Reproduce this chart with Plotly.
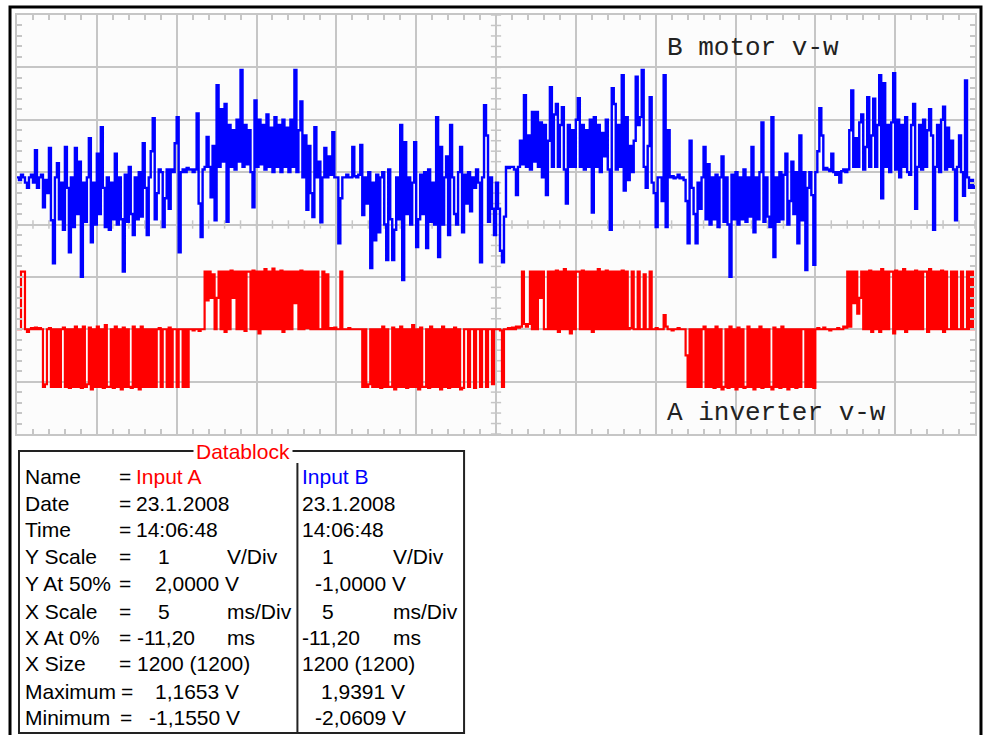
import plotly.graph_objects as go

# ---------------- data ----------------
X_START_MS = -11.2      # "X At 0%"
SAMPLE_MS = 0.125       # resampled step used for the reading
X_SPAN_MS = 60.0        # 12 div * 5 ms/Div

# Input A (inverter v-w), volts
input_a = [
    0.0, 0.0, 1.1, 1.1, 0.0, -0.05, 0.0, 0.02, 0.0, 0.03,
    0.0, 0.02, 0.0, -1.1, -1.05, 0.0, 0.02, -1.1, 0.0, -1.1,
    0.0, -1.1, 0.0, 0.03, -1.1, 0.0, -1.12, 0.0, -1.1, 0.05,
    -1.1, 0.0, -1.12, 0.05, -1.1, -1.05, 0.03, -1.15, 0.0, -1.1,
    0.05, -1.1, 0.0, -1.12, 0.08, -1.1, -1.1, 0.0, -1.12, 0.05,
    -1.1, 0.0, -1.15, 0.03, -1.1, 0.0, -1.1, -1.12, 0.05, -1.1,
    0.0, -1.15, 0.05, -1.1, 0.0, -1.1, 0.0, -1.1, 0.0, -1.1,
    0.0, 0.02, -1.1, 0.0, 0.0, -1.1, 0.03, -1.1, 0.0, 0.0,
    -1.1, 0.0, 0.0, -1.1, 0.0, -1.1, 0.0, 0.0, -0.02, 0.0,
    0.0, -0.03, 0.0, 0.0, 1.1, 0.55, 1.1, 0.6, 1.05, 0.0,
    0.6, 1.1, 0.0, 1.1, -0.05, 1.1, 0.0, 1.12, 0.6, 1.1,
    0.0, 1.1, 0.0, 1.1, -0.03, 1.1, 1.1, 0.0, 1.12, 0.0,
    1.1, -0.08, 1.1, 0.0, 1.15, 0.0, 1.1, 0.0, 1.16, 0.0,
    1.1, 0.0, 1.12, -0.05, 1.1, 0.0, 1.1, 0.0, 1.1, 0.5,
    1.1, 0.0, 1.12, 0.0, 1.1, 0.02, 1.1, 0.0, 1.1, 0.0,
    1.1, 0.0, 0.0, 1.1, 0.0, 1.05, 0.0, 0.02, 0.0, 0.03,
    0.0, 0.0, 1.1, 0.0, 0.0, 0.0, 0.02, 0.0, 0.0, 0.0,
    0.0, 0.0, 0.0, -1.1, 0.0, -1.1, -1.05, 0.0, -1.1, 0.0,
    -1.1, 0.0, -1.12, 0.05, -1.1, 0.0, -1.1, -1.1, 0.03, -1.15,
    0.0, -1.1, 0.05, -1.1, 0.0, -1.12, 0.0, -1.1, 0.08, -1.1,
    0.0, -1.15, 0.03, -1.1, -1.1, 0.0, -1.12, 0.05, -1.1, 0.0,
    -1.1, 0.0, -1.15, 0.05, -1.1, 0.0, -1.12, 0.0, -1.1, 0.03,
    -1.1, 0.0, -1.15, -1.12, 0.0, 0.0, -1.1, 0.0, 0.0, -1.12,
    0.0, 0.0, -1.1, 0.0, 0.0, -1.1, 0.0, 0.0, -1.05, 0.0,
    0.0, 0.0, -0.02, -1.1, 0.0, 0.0, 0.02, 0.0, 0.03, 0.0,
    0.05, 0.03, 0.05, 1.1, 0.1, 0.05, 0.1, 1.1, 0.0, 1.1,
    0.0, 1.1, 0.6, 1.1, 0.0, 0.0, 1.1, 0.0, 1.1, 0.0,
    1.12, -0.05, 1.1, 0.0, 1.15, 0.0, 1.1, -0.08, 1.1, 0.0,
    1.1, 1.1, 0.0, 1.12, 0.0, 1.1, 0.0, 1.1, -0.05, 1.1,
    0.0, 1.15, 0.0, 1.1, 0.0, 1.12, 0.0, 1.1, 0.0, 1.1,
    0.0, 1.1, 0.0, 1.12, 0.0, 1.1, 0.0, 0.02, 1.1, 0.0,
    0.0, 1.1, 0.0, 0.0, 1.05, 0.0, 0.0, 1.1, 0.0, 0.0,
    0.02, 0.0, 0.0, 0.0, 0.27, 0.05, 0.0, 0.0, -0.02, 0.0,
    0.0, 0.02, 0.0, 0.0, 0.0, -0.5, -1.1, 0.0, -1.1, 0.0,
    -1.1, 0.0, -1.1, 0.0, 0.05, -1.1, 0.0, -1.1, 0.0, -1.12,
    0.05, -1.1, 0.0, -1.15, -1.1, 0.0, -1.12, 0.05, -1.1, 0.0,
    -1.15, 0.03, -1.1, 0.0, -1.12, -1.1, 0.05, -1.1, 0.0, -1.15,
    0.0, -1.1, 0.05, -1.12, 0.0, -1.1, 0.0, -1.1, -1.15, 0.03,
    -1.1, 0.0, -1.12, 0.05, -1.1, 0.0, -1.15, 0.0, -1.1, 0.0,
    -1.12, 0.0, -1.1, 0.0, 0.0, -1.1, 0.0, -1.1, 0.0, -1.12,
    0.0, 0.02, 0.0, 0.0, 0.03, 0.0, 0.0, -0.02, 0.0, 0.0,
    0.0, 0.02, 0.0, 0.0, 0.05, 0.03, 1.1, 0.05, 1.1, 0.5,
    1.1, 0.3, 0.6, 1.1, 0.0, 1.1, 0.0, 1.12, -0.05, 1.1,
    0.0, 1.1, -0.05, 1.15, 0.0, 1.1, 0.0, 1.1, 1.1, -0.08,
    1.12, 0.0, 1.1, 0.0, 1.15, -0.05, 1.1, 0.0, 1.1, 0.0,
    1.12, 0.0, 1.1, 0.0, 1.1, 1.1, -0.05, 1.15, 0.0, 1.1,
    0.0, 1.1, 0.0, 1.12, -0.05, 1.1, 0.0, 0.0, 1.1, 0.0,
    1.1, 0.0, 0.0, 1.1, 0.0, 0.0, 1.1, 0.0, 1.1, 0.0,
    0.0,
]

# Input B (motor v-w), volts
input_b = [
    -0.1, -0.15, -0.05, -0.1, -0.2, -0.3, -0.1, -0.05, -0.2, 0.42,
    -0.3, -0.1, -0.05, -0.67, -0.15, -0.4, 0.46, -0.92, -1.74, -0.1,
    0.17, -0.9, -0.2, -1.1, 0.48, -0.3, -1.53, -0.1, -1.05, 0.46,
    -0.8, 0.2, -2.0, -0.2, -0.95, -0.1, 0.65, -1.34, -0.2, -1.0,
    0.35, -0.8, 0.86, -0.3, -1.05, -0.1, -1.1, -0.2, -0.9, 0.35,
    -1.0, -0.1, -0.9, -1.9, -0.05, -0.95, 0.1, -0.8, -1.2, -0.1,
    -0.9, 0.0, -0.85, 0.55, -0.3, -1.2, -0.1, 0.4, 1.03, -0.9,
    -0.4, 0.05, 0.0, -1.05, -0.5, 0.05, -0.7, 0.05, 0.0, 0.55,
    1.05, -1.53, 0.0, 0.05, 0.0, 0.08, 0.05, 0.05, 0.0, 0.05,
    1.12, -0.6, -1.24, 0.05, 0.1, 0.67, 0.1, -0.48, 0.5, -0.92,
    1.66, 0.1, 1.2, 0.2, 1.3, -0.95, 0.9, 0.1, 0.8, 0.05,
    1.0, 0.2, 1.95, 0.1, 0.9, 0.15, 0.8, 0.0, -0.67, 1.37,
    0.1, 1.0, 0.15, 0.9, 0.05, 1.1, 0.1, 0.85, 0.0, 1.05,
    0.1, 0.9, 0.0, 1.0, 0.1, 0.85, 0.0, 1.0, 0.1, 1.95,
    0.0, 0.8, 1.35, -0.1, 0.7, -0.72, 0.5, -0.4, -0.86, 0.86,
    -0.1, 0.2, -0.96, -0.1, 0.46, -0.1, 0.3, -0.05, 0.76, -0.1,
    -0.1, -1.36, -0.5, -0.1, -0.1, -0.05, -0.1, -0.1, 0.48, -0.08,
    -0.1, -0.05, 0.52, -0.82, -0.1, -0.6, 0.0, -1.83, -0.2, -1.3,
    -0.05, -1.15, -0.1, 0.0, -1.0, -1.68, 0.05, -0.9, -1.68, -1.1,
    -0.1, -0.9, 0.9, -2.06, 0.57, -0.8, -0.1, -1.0, -0.2, 0.57,
    -1.43, -0.9, -0.05, -0.8, 0.0, -1.45, 0.05, -0.95, -0.2, -1.0,
    1.05, -1.62, 0.48, -1.0, -0.1, 0.3, -1.2, 0.9, -0.1, -0.8,
    -1.0, 0.0, 0.48, -1.15, -0.05, -0.6, 0.0, -0.75, -0.1, -0.3,
    0.05, -0.2, -1.72, -0.1, 1.28, 0.7, -0.95, -0.1, -0.7, -1.2,
    -0.2, -0.7, -1.5, -1.72, -0.85, 0.1, 0.08, 0.1, 0.1, 0.05,
    -0.44, 0.1, 0.6, 0.15, 1.47, 0.1, 0.7, 0.05, 1.15, 0.2,
    1.15, 0.1, 0.95, -0.1, 0.9, -0.44, 0.6, 1.62, 0.1, 1.1,
    1.3, 0.1, 0.9, 1.24, 0.05, -0.6, 0.9, 0.1, 0.8, 0.1,
    1.0, 1.41, 0.1, 0.9, 0.05, 0.8, 0.1, 1.0, -0.77, 1.05,
    0.1, 0.9, 0.0, 0.75, 0.3, 1.0, 0.05, -1.1, 1.6, 1.3,
    0.05, 0.9, 0.1, 1.85, -0.35, 1.05, -0.15, 0.5, 0.0, 0.6,
    1.82, 0.9, 1.05, 1.95, 0.1, -0.3, 0.5, 1.43, -0.2, -0.4,
    -1.05, -0.1, -0.1, -0.55, 1.85, -1.05, 0.8, -0.1, -0.08, -0.12,
    -0.1, -0.05, -0.12, -0.1, -0.15, -0.55, -1.36, 0.6, -0.3, -0.8,
    -1.36, -0.2, -0.7, -0.1, 0.48, -0.9, 0.15, -1.0, -0.1, -0.9,
    -0.05, -1.05, -0.1, 0.3, -0.95, -0.1, -1.0, -2.0, -0.05, -0.9,
    0.0, -1.0, -0.1, -0.9, 0.05, -0.95, -0.1, -0.85, 0.48, -1.15,
    -0.1, -0.9, 0.0, 0.95, -0.95, -0.1, -0.85, -1.05, 1.05, -1.62,
    -0.1, -0.95, 0.0, -0.9, -0.05, 0.35, -1.0, -0.55, 0.2, -0.8,
    0.0, -1.36, 0.7, -0.92, 0.0, -1.87, -0.3, 0.0, -0.44, -1.77,
    0.0, 0.4, 1.22, 0.7, 0.05, 0.08, 0.05, 0.02, 0.35, 0.0,
    -0.05, 0.0, -0.2, 0.02, 0.05, 0.0, 0.05, 0.8, 1.56, 0.1,
    0.65, 0.1, 0.95, 1.1, 0.05, 0.48, 1.43, 0.1, 0.7, 1.4,
    0.1, 0.9, 1.85, -0.5, 1.7, 0.1, 0.9, 0.0, 0.95, 1.89,
    0.05, 1.0, -0.1, 0.9, 0.1, 1.05, 0.0, -0.05, 0.9, 1.3,
    -0.7, 0.1, 0.9, 0.05, 1.0, 0.1, 0.8, 1.2, 0.7, -1.1,
    0.1, 0.9, 0.0, 1.0, 1.25, 0.05, 0.85, 0.1, 0.6, 0.05,
    -0.92, 0.1, 0.7, 0.0, -0.45, 1.75, -0.1, -0.3, -0.15, -0.3,
    -0.25,
]

time_a = [round(X_START_MS + SAMPLE_MS * i, 4) for i in range(len(input_a))]
time_b = [round(X_START_MS + SAMPLE_MS * i, 4) for i in range(len(input_b))]

# Y At 50% (screen centre) and scale for each channel
A_CENTER_V, B_CENTER_V, V_PER_DIV, Y_DIVS = 2.0, -1.0, 1.0, 8

# Datablock
db_labels = ["Name", "Date", "Time", "Y Scale", "Y At 50%", "X Scale",
             "X At 0%", "X Size", "Maximum", "Minimum"]
db_a = ["Input A", "23.1.2008", "14:06:48", "1", "2,0000 V", "5",
        "-11,20", "1200 (1200)", "1,1653 V", "-1,1550 V"]
db_b = ["Input B", "23.1.2008", "14:06:48", "1", "-1,0000 V", "5",
        "-11,20", "1200 (1200)", "1,9391 V", "-2,0609 V"]
db_unit = ["", "", "", "V/Div", "", "ms/Div", "ms", "", "", ""]

# ---------------- layout geometry (pixels) ----------------
W, H = 985, 735
PL, PR, PT, PB = 17, 977, 15, 434          # plot area
GRID = "#c6c6c6"
SANS = "Liberation Sans, Arial, sans-serif"
MONO = "Liberation Mono, Courier New, monospace"


def P(px, py):
    return (px - PL) / (PR - PL), (PB - py) / (PB - PT)


fig = go.Figure()
fig.add_trace(go.Scatter(x=time_b, y=input_b, yaxis="y2", mode="lines",
                         line=dict(color="#0000ff", width=2.4, shape="hv"), name="Input B"))
fig.add_trace(go.Scatter(x=time_a, y=input_a, mode="lines",
                         line=dict(color="#ff0000", width=2.2, shape="hv"), name="Input A"))

x_rng = [X_START_MS, X_START_MS + X_SPAN_MS]
ya_rng = [A_CENTER_V - Y_DIVS / 2 * V_PER_DIV, A_CENTER_V + Y_DIVS / 2 * V_PER_DIV]
yb_rng = [B_CENTER_V - Y_DIVS / 2 * V_PER_DIV, B_CENTER_V + Y_DIVS / 2 * V_PER_DIV]

common = dict(showgrid=True, gridcolor=GRID, gridwidth=2, showline=True,
              linecolor=GRID, linewidth=2, mirror="allticks", ticks="inside",
              ticklen=5, tickcolor=GRID, tickwidth=1.5, showticklabels=False,
              zeroline=False, fixedrange=True)

fig.update_layout(
    width=W, height=H,
    margin=dict(l=PL, r=W - PR, t=PT, b=H - PB, pad=0),
    paper_bgcolor="white", plot_bgcolor="#fcfcfc",
    showlegend=False,
    xaxis=dict(range=x_rng, dtick=5, tick0=X_START_MS,
               minor=dict(dtick=1, tick0=X_START_MS, ticks="inside", ticklen=5,
                          tickcolor=GRID, tickwidth=1.5, showgrid=False),
               **common),
    yaxis=dict(range=ya_rng, dtick=1, tick0=ya_rng[0],
               minor=dict(dtick=0.2, tick0=ya_rng[0], ticks="inside", ticklen=5,
                          tickcolor=GRID, tickwidth=1.5, showgrid=False),
               **common),
    yaxis2=dict(range=yb_rng, overlaying="y", showgrid=False, showline=False,
                showticklabels=False, ticks="", zeroline=False, fixedrange=True),
)

shapes = []
# centre-cross minor ticks
x_mid = X_START_MS + X_SPAN_MS / 2
k = 0
while X_START_MS + k * 1.0 <= x_rng[1] + 1e-9:
    xv = X_START_MS + k * 1.0
    shapes.append(dict(type="line", xref="x", yref="y", x0=xv, x1=xv,
                       y0=A_CENTER_V - 0.08, y1=A_CENTER_V + 0.08,
                       line=dict(color=GRID, width=1.5), layer="below"))
    k += 1
k = 0
while ya_rng[0] + k * 0.2 <= ya_rng[1] + 1e-9:
    yv = ya_rng[0] + k * 0.2
    shapes.append(dict(type="line", xref="x", yref="y", x0=x_mid - 0.32, x1=x_mid + 0.32,
                       y0=yv, y1=yv, line=dict(color=GRID, width=1.5), layer="below"))
    k += 1

# outer black frame
x0, y1 = P(10, 7)
x1, y0 = P(983, 745)
shapes.append(dict(type="rect", xref="paper", yref="paper", x0=x0, x1=x1, y0=y0, y1=y1,
                   line=dict(color="black", width=3)))
# datablock box and divider
x0, y1 = P(19, 451)
x1, y0 = P(465, 733)
shapes.append(dict(type="rect", xref="paper", yref="paper", x0=x0, x1=x1, y0=y0, y1=y1,
                   line=dict(color="#222222", width=2)))
xd, yd1 = P(298, 463)
_, yd0 = P(298, 733)
shapes.append(dict(type="line", xref="paper", yref="paper", x0=xd, x1=xd, y0=yd0, y1=yd1,
                   line=dict(color="#222222", width=2)))
fig.update_layout(shapes=shapes)

ann = []


def text(px, py, s, color="black", size=21, family=SANS, xanchor="left", bg=None):
    x, y = P(px, py)
    d = dict(x=x, y=y, xref="paper", yref="paper", text=s, showarrow=False,
             xanchor=xanchor, yanchor="middle",
             font=dict(family=family, size=size, color=color))
    if bg:
        d.update(bgcolor=bg, borderpad=2)
    ann.append(d)


text(666, 48, "B motor v-w", color="#222222", size=26, family=MONO)
text(666, 413, "A inverter v-w", color="#222222", size=26, family=MONO)
text(243, 451, "Datablock", color="#ff0000", xanchor="center", bg="white")

row_y = [476.5, 503, 529, 556.5, 583.5, 611, 637.5, 663.5, 691, 717.5]
a_x = [134, 134, 134, 156, 153, 156, 135, 135, 153, 147]
b_x = [301, 301, 301, 321, 314, 321, 301, 301, 320, 314]
eq_x = [117, 117, 117, 117, 117, 117, 117, 117, 119, 118]
for i, lab in enumerate(db_labels):
    yy = row_y[i]
    text(23, yy, lab)
    text(eq_x[i], yy, "=")
    text(a_x[i], yy, db_a[i], color="#ff0000" if i == 0 else "black")
    text(b_x[i], yy, db_b[i], color="#0000ff" if i == 0 else "black")
    if db_unit[i]:
        text(225, yy, db_unit[i])
        text(392, yy, db_unit[i])

fig.update_layout(annotations=ann)
fig.write_html("out.html")
